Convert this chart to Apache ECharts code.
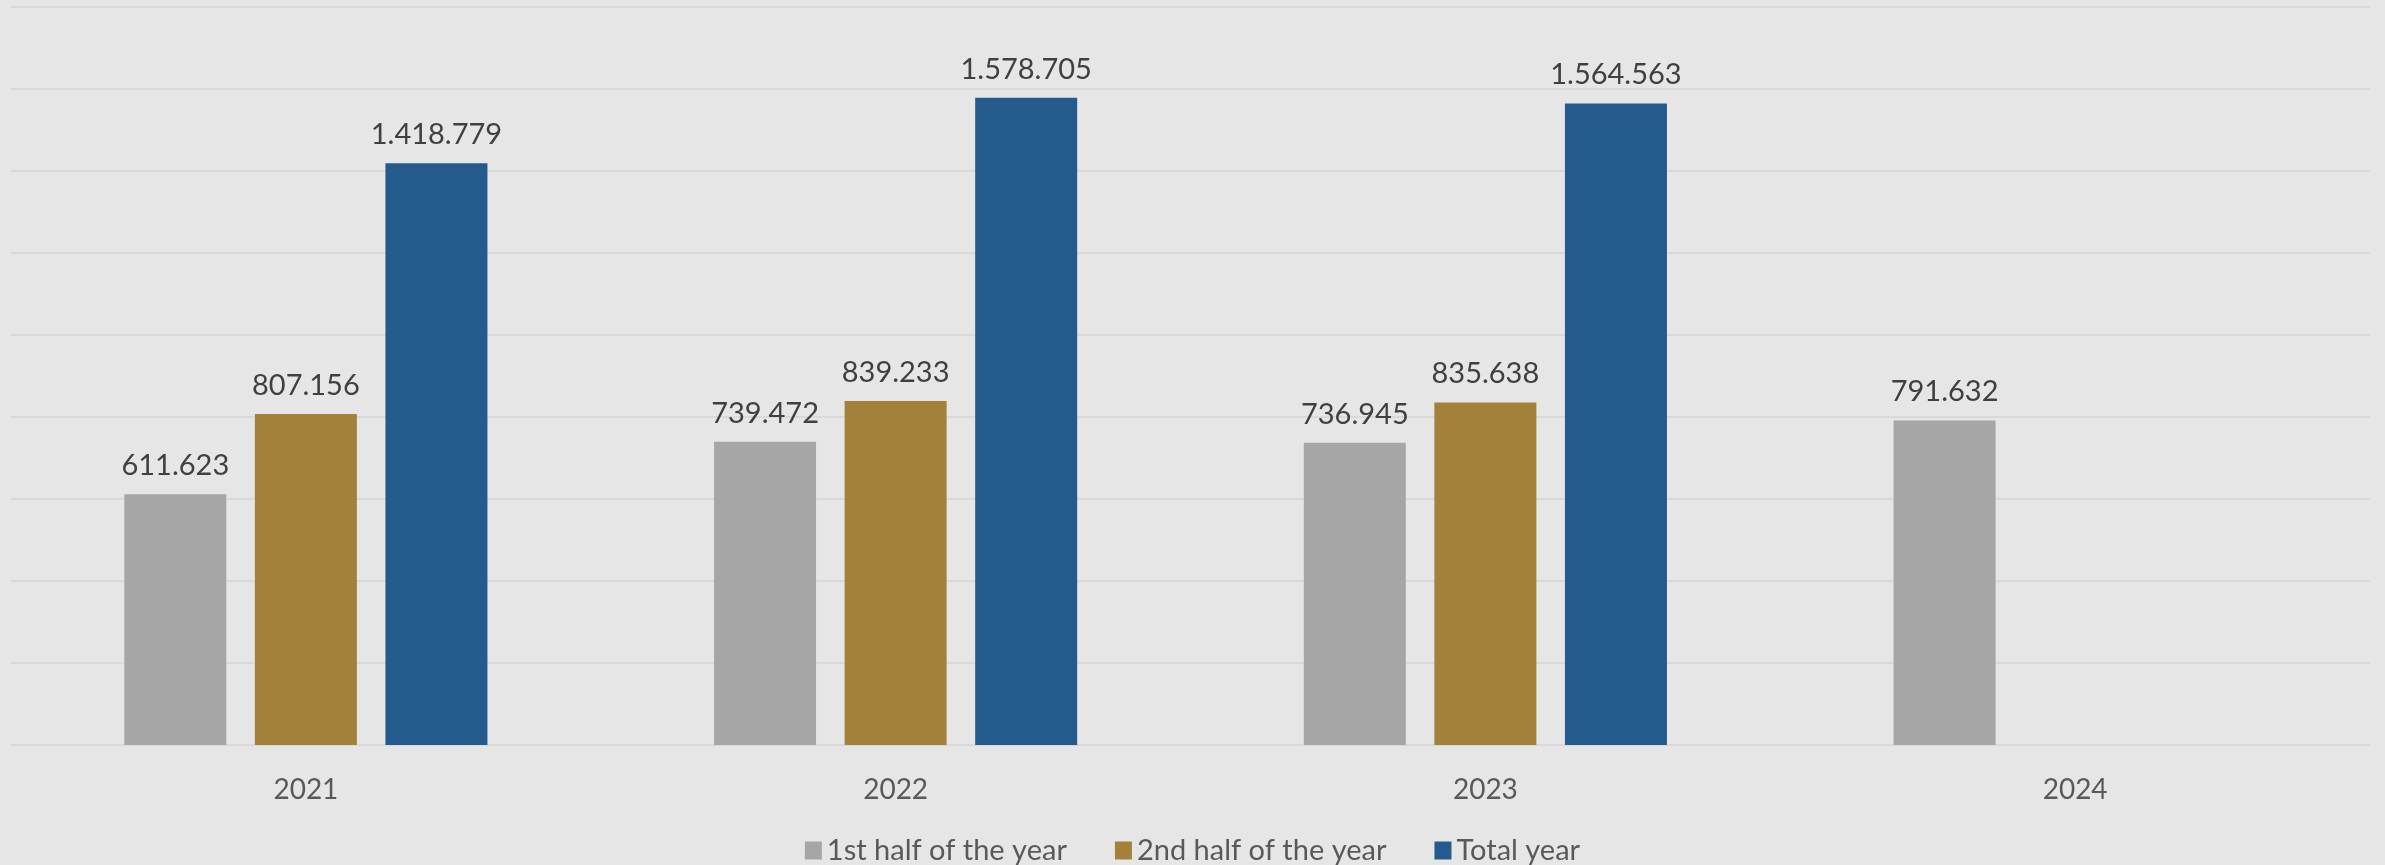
<!DOCTYPE html>
<html>
<head>
<meta charset="utf-8">
<script src="https://cdn.jsdelivr.net/npm/echarts@6/dist/echarts.min.js"></script>
<style>
html,body{margin:0;padding:0;background:#E6E6E6;}
#chart{width:2385px;height:865px;}
</style>
</head>
<body>
<div id="chart"></div>
<script>
const categories = ['2021', '2022', '2023', '2024'];
const firstHalf = [611623, 739472, 736945, 791632];
const secondHalf = [807156, 839233, 835638, null];
const totalYear = [1418779, 1578705, 1564563, null];
const seriesNames = ['1st half of the year', '2nd half of the year', 'Total year'];
const seriesColors = ['#A6A6A6', '#A3813A', '#245B8C'];
const yMax = 1800000;
const yInterval = 200000;

function fmt(v) {
  return String(v).replace(/\B(?=(\d{3})+(?!\d))/g, '.');
}

const FONT = 'Lato, "Open Sans", sans-serif';

const chart = echarts.init(document.getElementById('chart'));
const seriesData = [firstHalf, secondHalf, totalYear];

chart.setOption({
  backgroundColor: '#E6E6E6',
  animation: false,
  grid: { left: 11, right: 15, top: 7, bottom: 120, containLabel: false },
  legend: {
    top: 831,
    left: 'center',
    itemWidth: 17,
    itemHeight: 18,
    itemGap: 48,
    icon: 'rect',
    textStyle: { color: '#595959', fontSize: 29, fontFamily: FONT },
    data: seriesNames
  },
  xAxis: {
    type: 'category',
    data: categories,
    axisLine: { show: false },
    axisTick: { show: false },
    axisLabel: { color: '#595959', fontSize: 28, fontFamily: FONT, margin: 31 }
  },
  yAxis: {
    type: 'value',
    min: 0,
    max: yMax,
    interval: yInterval,
    axisLabel: { show: false },
    axisLine: { show: false },
    axisTick: { show: false },
    splitLine: { lineStyle: { color: '#D9D9D9', width: 2 } }
  },
  series: seriesData.map((d, i) => ({
    name: seriesNames[i],
    type: 'bar',
    data: d,
    barWidth: 102,
    barGap: '28%',
    itemStyle: { color: seriesColors[i] },
    label: {
      show: true,
      position: 'top',
      distance: 14,
      color: '#404040',
      fontSize: 29,
      fontFamily: FONT,
      formatter: p => p.value == null ? '' : fmt(p.value)
    }
  }))
});
</script>
</body>
</html>
